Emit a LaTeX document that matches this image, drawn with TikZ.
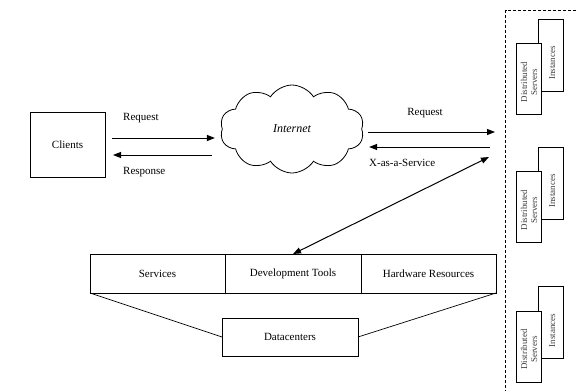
\documentclass[tikz,border=0pt]{standalone}
\usepackage{fontspec}
\setmainfont{Liberation Serif}
\usetikzlibrary{shapes.symbols,arrows.meta,positioning,calc}

\begin{document}
\begin{tikzpicture}[x=1pt,y=-1pt,
  box/.style={draw,line width=0.8pt,inner sep=0pt,outer sep=0pt,font=\fontsize{11}{13}\selectfont},
  lbl/.style={font=\fontsize{11}{13}\selectfont,inner sep=0pt},
  arr/.style={line width=1pt,-{Triangle[length=8pt,width=6pt]}},
  srv/.style={draw,line width=0.8pt,fill=white,minimum width=25pt,minimum height=72pt,inner sep=0pt},
  srvtxt/.style={font=\fontsize{9}{10}\selectfont,text=black!75,align=center,rotate=90,inner sep=0pt}]
\useasboundingbox (0,0) rectangle (576,391);
\node[box,minimum width=75pt,minimum height=65pt] (clients) at (67.5,144.5) {Clients};
\node[cloud,draw,line width=0.8pt,cloud puffs=10,cloud puff arc=115,aspect=1.6,inner sep=0pt,minimum width=144pt,minimum height=88pt,font=\fontsize{12}{14}\selectfont\itshape] (internet) at (292,129) {Internet};
\draw[arr] ($(clients.east)+(7,-6.5)$) -- ($(clients.east-|internet.west)+(-7,-6.5)$);
\draw[arr] ($(clients.east-|internet.west)+(-10,10.5)$) -- ($(clients.east)+(8,10.5)$);
\node[lbl,anchor=west] (req1) at (123,118) {Request};
\node[lbl,anchor=west] (resp) at (123,172) {Response};

\coordinate (reqend) at (495,132);
\coordinate (xaas) at (490,147);
\coordinate (link) at (489,157);
\draw[arr] ($(internet.east|-reqend)+(6,0)$) -- (reqend);
\draw[arr] (xaas) -- ($(internet.east|-xaas)+(7,0)$);
\node[lbl] (req2) at (425,113) {Request};
\node[lbl,anchor=west] (xaaslbl) at (369,163) {X-as-a-Service};

\node[box,minimum width=135pt,minimum height=39pt] (services) at (157.5,273.5) {Services};
\node[box,minimum width=136pt,minimum height=39pt,right=0pt of services] (devtools) {Development Tools};
\node[box,minimum width=135pt,minimum height=39pt,right=0pt of devtools] (hardware) {Hardware Resources};
\node[box,minimum width=136pt,minimum height=38pt] (datacenters) at (290,337) {Datacenters};
\draw[line width=0.7pt] (services.south west) -- (datacenters.west);
\draw[line width=0.7pt] (hardware.south east) -- (datacenters.east);
\draw[line width=1pt,{Triangle[length=8pt,width=6pt]}-{Triangle[length=8pt,width=6pt]}] (devtools.north) -- (link);

\draw[line width=0.6pt,dash pattern=on 3pt off 2pt] (576,10.7) -| (505.7,391);
\foreach \y/\i in {55/1,183/2,322.5/3} {
  \node[srv] (inst\i) at (551.3,\y) {};
  \node[srvtxt] at ($(inst\i)+(1,8)$) {Instances};
  \node[srv,minimum height=71pt] (dist\i) at (529,\y+24) {};
  \node[srvtxt] at ($(dist\i)+(0,3)$) {Distributed\\Servers};
}
\end{tikzpicture}
\end{document}
